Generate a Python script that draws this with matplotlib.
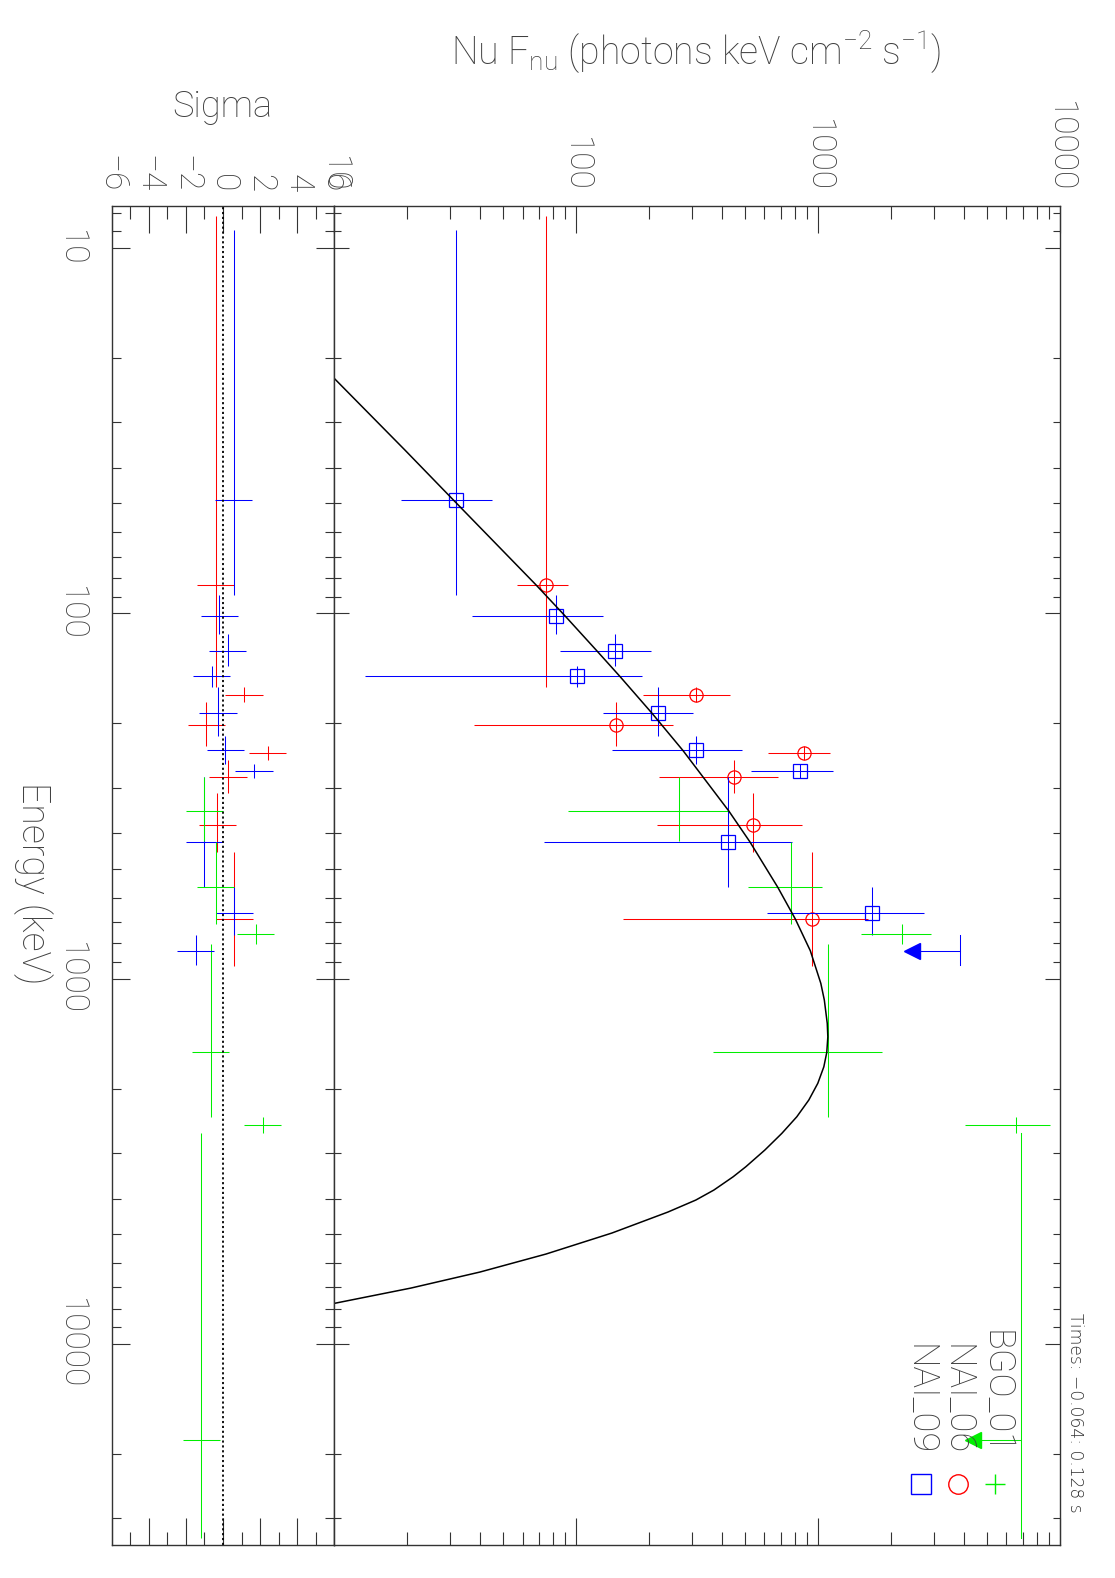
import matplotlib
matplotlib.use('Agg')
import matplotlib.pyplot as plt
from matplotlib.ticker import LogLocator, MultipleLocator, NullFormatter

plt.rcParams['font.family'] = ['Roboto', 'DejaVu Sans']
plt.rcParams['font.weight'] = 'light'
plt.rcParams['mathtext.fontset'] = 'custom'
plt.rcParams['mathtext.rm'] = 'Roboto:light'
plt.rcParams['mathtext.it'] = 'Roboto:light'

# ---- data (energy in keV, nu F_nu, residual in sigma) ----
# NAI_06 (red circles)
n6_e = [83.5, 167.1, 202.6, 240.8, 280.6, 379.8, 686.8]
n6_elo = [8.17, 159.4, 175.2, 230.8, 252.1, 309.5, 451.2]
n6_ehi = [158.8, 174.6, 230.4, 252.1, 309.5, 449.5, 923.8]
n6_f = [74.96, 311.4, 145.5, 870.2, 450.6, 535.7, 944.5]
n6_flo = [57.05, 189.2, 37.8, 621.6, 219.6, 215.4, 155.5]
n6_fhi = [92.66, 431.7, 251.7, 1118, 683.5, 853.8, 1609]
n6_sig = [-0.38, 1.13, -0.91, 2.42, 0.27, -0.31, 0.61]

# NAI_09 (blue squares)
n9_e = [48.96, 101.5, 126.6, 148.8, 187.5, 237.2, 270.2, 421.9, 660.0]
n9_elo = [8.93, 89.1, 113.6, 139.2, 158.8, 216.3, 258.5, 280.6, 560.3]
n9_ehi = [89.1, 113.6, 139.2, 158.8, 216.3, 257.7, 282.4, 560.3, 759.8]
n9_f = [31.75, 82.67, 144.5, 100.7, 217.6, 311.4, 837.9, 423.4, 1678]
n9_flo = [18.81, 36.96, 85.6, 13.39, 129.3, 140.0, 525.6, 73.76, 612.2]
n9_fhi = [44.72, 128.5, 203.0, 187.4, 304.4, 482.6, 1147, 776.6, 2742]
n9_sig = [0.59, -0.21, 0.25, -0.61, -0.27, 0.12, 1.67, -1.0, 0.61]
# NAI_09 upper limit
n9_ul_elo, n9_ul_ehi, n9_ul_e = 759.8, 918.1, 839.0
n9_ul_f = 3850
n9_ul_sig = -1.48

# BGO_01 (green)
b1_e = [347.7, 562.4, 755.1, 1591, 2512]
b1_elo = [280.6, 421.4, 708.7, 804.2, 2385]
b1_ehi = [418.8, 706.5, 801.7, 2385, 2647]
b1_f = [265.7, 773.6, 2218, 1100, 6561]
b1_flo = [92.13, 513.7, 1501, 368.2, 4038]
b1_fhi = [424.6, 1033, 2922, 1839, 9127]
b1_sig = [-1.02, -0.38, 1.77, -0.65, 2.15]
# BGO_01 upper limit
b1_ul_elo, b1_ul_ehi, b1_ul_e = 2647, 34060, 18354
b1_ul_f = 6879
b1_ul_sig = -1.18

# model curve
model_e = [22.74, 35.73, 48.96, 83.5, 101.5, 126.6, 148.8, 187.5, 237.2, 347.7,
           421.9, 562.4, 686.8, 838.7, 1030, 1144.5, 1326, 1443, 1591, 1743,
           1934, 2149, 2388, 2652, 2946, 3273, 3486, 3791, 4037, 4355,
           4971, 5675, 6356, 7031, 7744]
model_f = [10.0, 19.6, 31.09, 68.14, 89.8, 121.7, 151.6, 205.5, 276.0, 427.6,
           522.1, 681.4, 805.0, 928.5, 1026, 1061, 1091, 1097, 1086, 1056,
           997.1, 915.3, 816.6, 707.9, 602.2, 502.5, 445.5, 370.7, 312.3, 239.3,
           140.4, 74.96, 40.0, 20.75, 10.0]

e_range = (7.674, 35520)
f_ticks = [10, 100, 1000, 10000]
f_labels = ['10', '100', '1000', '10000']
e_ticks = [10, 100, 1000, 10000]
e_labels = ['10', '100', '1000', '10000']
sig_ticks = [-6, -4, -2, 0, 2, 4, 6]
sig_labels = ['\u22126', '\u22124', '\u22122', '0', '2', '4', '6']

RED, BLUE, GREEN = '#ff0000', '#0000ff', '#00ee00'
TXT = '#404040'
FRAME = '#333333'

fig = plt.figure(figsize=(11.15, 15.78), dpi=100)
ax_r = fig.add_axes([0.1002, 0.0209, 0.1996, 0.8485])
ax = fig.add_axes([0.2998, 0.0209, 0.6509, 0.8485])

for a in (ax, ax_r):
    a.set_yscale('log')
    a.set_ylim(e_range[1], e_range[0])
    for s in a.spines.values():
        s.set_color(FRAME)
        s.set_linewidth(1.0)

# ---- main panel ----
ax.set_xscale('log')
ax.set_xlim(10, 10000)


def asym(c, lo, hi):
    return [[ci - l for ci, l in zip(c, lo)], [h - ci for ci, h in zip(c, hi)]]


lw = 0.75
ax.errorbar(n6_f, n6_e, xerr=asym(n6_f, n6_flo, n6_fhi), yerr=asym(n6_e, n6_elo, n6_ehi),
            fmt='none', ecolor=RED, elinewidth=lw, capsize=0)
ax.plot(n6_f, n6_e, 'o', mfc='none', mec=RED, ms=9.5, mew=0.9)
ax.errorbar(n9_f, n9_e, xerr=asym(n9_f, n9_flo, n9_fhi), yerr=asym(n9_e, n9_elo, n9_ehi),
            fmt='none', ecolor=BLUE, elinewidth=lw, capsize=0)
ax.plot(n9_f, n9_e, 's', mfc='none', mec=BLUE, ms=9.5, mew=0.9)
ax.errorbar(b1_f, b1_e, xerr=asym(b1_f, b1_flo, b1_fhi), yerr=asym(b1_e, b1_elo, b1_ehi),
            fmt='none', ecolor=GREEN, elinewidth=lw, capsize=0)

for ulf, elo, ehi, em, col in ((n9_ul_f, n9_ul_elo, n9_ul_ehi, n9_ul_e, BLUE),
                               (b1_ul_f, b1_ul_elo, b1_ul_ehi, b1_ul_e, GREEN)):
    ax.plot([ulf, ulf], [elo, ehi], color=col, lw=lw)
    ax.plot([ulf, 0.66 * ulf], [em, em], color=col, lw=lw)
    ax.plot(0.635 * ulf, em, marker='<', ms=11, color=col, mec=col)

ax.plot(model_f, model_e, color='black', lw=1.1)

ax.set_xticks(f_ticks, labels=f_labels, rotation=-90, fontsize=24, color=TXT)
ax.xaxis.set_minor_locator(LogLocator(base=10, subs=range(2, 10)))
ax.xaxis.set_minor_formatter(NullFormatter())
ax.tick_params(axis='x', which='both', direction='in', top=True, bottom=True,
               labeltop=True, labelbottom=False, pad=10, color=FRAME, width=0.8)
ax.tick_params(axis='x', which='major', length=19.4)
ax.tick_params(axis='x', which='minor', length=9.4)
ax.yaxis.set_major_locator(LogLocator(base=10))
ax.yaxis.set_minor_locator(LogLocator(base=10, subs=range(2, 10)))
ax.yaxis.set_major_formatter(NullFormatter())
ax.yaxis.set_minor_formatter(NullFormatter())
ax.tick_params(axis='y', which='both', direction='in', left=True, right=True,
               labelleft=False, color=FRAME, width=0.8)
ax.tick_params(axis='y', which='major', length=10.5)
ax.tick_params(axis='y', which='minor', length=5.2)

# legend
leg = [('BGO_01', '+', GREEN, 0.9104), ('NAI_06', 'o', RED, 0.8593), ('NAI_09', 's', BLUE, 0.8083)]
for name, mk, col, xf in leg:
    ax.text(xf, 0.0672, name, transform=ax.transAxes, rotation=-90, ha='center',
            va='bottom', fontsize=26, color=TXT)
    ax.plot(xf, 0.0456, marker=mk, ms=14, mfc='none', mec=col, mew=1.0,
            transform=ax.transAxes, clip_on=False)

# ---- residual panel ----
ax_r.set_xlim(-6, 6)
ax_r.errorbar(n6_sig, n6_e, xerr=1, yerr=asym(n6_e, n6_elo, n6_ehi),
              fmt='none', ecolor=RED, elinewidth=lw, capsize=0)
ax_r.errorbar(n9_sig, n9_e, xerr=1, yerr=asym(n9_e, n9_elo, n9_ehi),
              fmt='none', ecolor=BLUE, elinewidth=lw, capsize=0)
ax_r.errorbar(b1_sig, b1_e, xerr=1, yerr=asym(b1_e, b1_elo, b1_ehi),
              fmt='none', ecolor=GREEN, elinewidth=lw, capsize=0)
ax_r.errorbar([n9_ul_sig], [n9_ul_e], xerr=1, yerr=[[n9_ul_e - n9_ul_elo], [n9_ul_ehi - n9_ul_e]],
              fmt='none', ecolor=BLUE, elinewidth=lw, capsize=0)
ax_r.errorbar([b1_ul_sig], [b1_ul_e], xerr=1, yerr=[[b1_ul_e - b1_ul_elo], [b1_ul_ehi - b1_ul_e]],
              fmt='none', ecolor=GREEN, elinewidth=lw, capsize=0)
ax_r.axvline(0, color='black', lw=1.3, ls=(0, (1.2, 1.5)))

ax_r.set_xticks(sig_ticks, labels=sig_labels, rotation=-90, fontsize=24, color=TXT)
ax_r.xaxis.set_minor_locator(MultipleLocator(1))
ax_r.tick_params(axis='x', which='both', direction='in', top=True, bottom=True,
                 labeltop=True, labelbottom=False, pad=10, color=FRAME, width=0.8)
ax_r.tick_params(axis='x', which='major', length=19.4)
ax_r.tick_params(axis='x', which='minor', length=9.4)
ax_r.set_yticks(e_ticks, labels=e_labels, rotation=-90, fontsize=24, color=TXT, va='center')
ax_r.yaxis.set_minor_locator(LogLocator(base=10, subs=range(2, 10)))
ax_r.yaxis.set_minor_formatter(NullFormatter())
ax_r.tick_params(axis='y', which='both', direction='in', left=True, right=True,
                 labelleft=True, pad=18, color=FRAME, width=0.8)
ax_r.tick_params(axis='y', which='major', length=13)
ax_r.tick_params(axis='y', which='minor', length=6.5)

# ---- titles ----
fig.text(696 / 1115, 1 - 52 / 1578, r'Nu F$_{\rm nu}$ (photons keV cm$^{-2}$ s$^{-1}$)',
         ha='center', va='center', fontsize=27, color=TXT)
fig.text(222 / 1115, 1 - 107 / 1578, 'Sigma', ha='center', va='center', fontsize=26, color=TXT)
fig.text(33 / 1115, 1 - 883 / 1578, 'Energy (keV)', rotation=-90, ha='center', va='center',
         fontsize=27, color=TXT)
fig.text(1075 / 1115, 1 - 1413 / 1578, 'Times: \u22120.064: 0.128 s', rotation=-90,
         ha='center', va='center', fontsize=12.3, color='#333333', family='DejaVu Sans')

fig.savefig('out.png', dpi=100)
